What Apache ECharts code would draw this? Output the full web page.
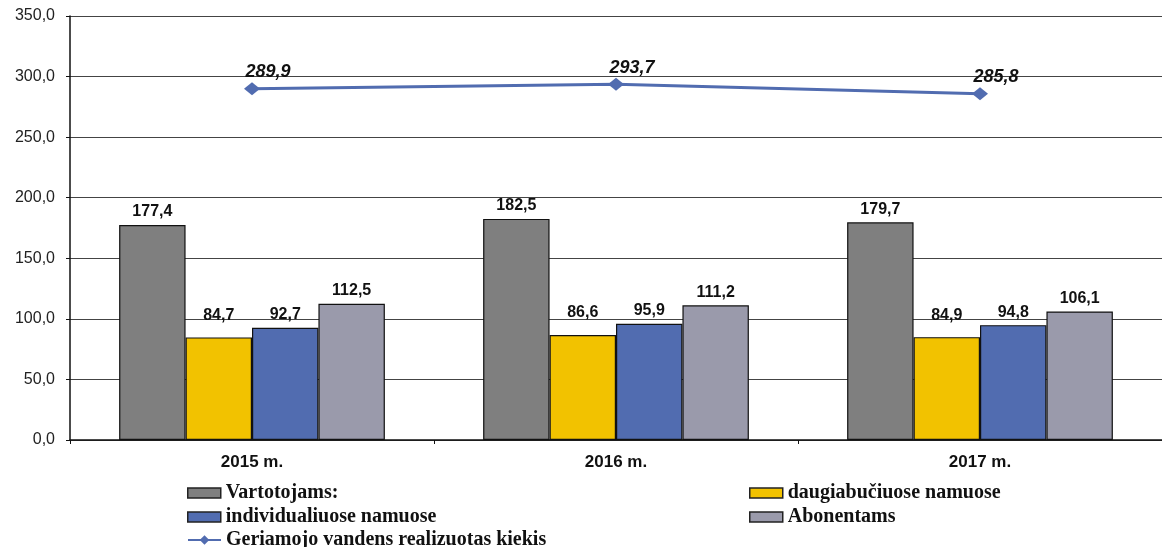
<!DOCTYPE html>
<html>
<head>
<meta charset="utf-8">
<script src="https://cdn.jsdelivr.net/npm/echarts@6/dist/echarts.min.js"></script>
<style>
html, body { margin: 0; padding: 0; background: #fff; }
#main { width: 1162px; height: 547px; }
</style>
</head>
<body>
<div id="main"></div>
<script>
var years = ['2015 m.', '2016 m.', '2017 m.'];
var vartotojams = [177.4, 182.5, 179.7];
var daugiabuciuose = [84.7, 86.6, 84.9];
var individualiuose = [92.7, 95.9, 94.8];
var abonentams = [112.5, 111.2, 106.1];
var geriamojo = [289.9, 293.7, 285.8];

var myChart = echarts.init(document.getElementById('main'));

// skaičius su kableliu
function fmt(v) {
    return v.toFixed(1).replace('.', ',');
}

function barSeries(name, data, color, lift) {
    return {
        name: name,
        type: 'bar',
        data: data,
        barGap: '0%',
        barCategoryGap: '27%',
        itemStyle: { color: color, borderColor: '#111', borderWidth: 1.2 },
        label: {
            show: true,
            position: 'top',
            distance: 5,
            offset: [0, -lift],
            fontFamily: 'Arial, Liberation Sans, sans-serif',
            fontWeight: 'bold',
            fontSize: 16,
            color: '#111',
            formatter: function (p) { return fmt(p.value); }
        }
    };
}

var legendText = {
    fontFamily: 'Liberation Serif, Times New Roman, serif',
    fontWeight: 'bold',
    fontSize: 20,
    color: '#111'
};

function legendItem(name, left, top) {
    return {
        data: [{ name: name, icon: 'rect' }],
        left: left,
        top: top,
        padding: 0,
        itemWidth: 33,
        itemHeight: 10,
        itemGap: 5,
        itemStyle: { borderColor: '#222', borderWidth: 1.5 },
        textStyle: legendText,
        selectedMode: false
    };
}

myChart.setOption({
    animation: false,
    grid: { left: 70, right: -3, top: 16, bottom: 107 },
    legend: [
        legendItem('Vartotojams:', 187, 483),
        legendItem('daugiabučiuose namuose', 749, 483),
        legendItem('individualiuose namuose', 187, 507),
        legendItem('Abonentams', 749, 507),
        {
            data: ['Geriamojo vandens realizuotas kiekis'],
            left: 187,
            top: 530,
            padding: 0,
            itemWidth: 33,
            itemHeight: 12,
            itemGap: 5,
            textStyle: legendText,
            selectedMode: false
        }
    ],
    xAxis: {
        type: 'category',
        data: years,
        axisLine: { lineStyle: { color: '#111', width: 1.5 } },
        axisTick: { show: true, length: 4, lineStyle: { color: '#111' } },
        axisLabel: {
            fontFamily: 'Arial, Liberation Sans, sans-serif',
            fontWeight: 'bold',
            fontSize: 17,
            color: '#111',
            margin: 14
        }
    },
    yAxis: {
        type: 'value',
        min: 0,
        max: 350,
        interval: 50,
        axisLine: { show: true, lineStyle: { color: '#111', width: 1.5 } },
        axisTick: { show: true, length: 4, lineStyle: { color: '#111' } },
        axisLabel: {
            fontFamily: 'Arial, Liberation Sans, sans-serif',
            fontSize: 16,
            color: '#222',
            margin: 15,
            formatter: function (v) { return fmt(v); }
        },
        splitLine: { lineStyle: { color: '#444', width: 1 } }
    },
    series: [
        barSeries('Vartotojams:', vartotojams, '#7f7f7f', 0),
        barSeries('daugiabučiuose namuose', daugiabuciuose, '#f2c200', 9),
        barSeries('individualiuose namuose', individualiuose, '#516cb0', 0),
        barSeries('Abonentams', abonentams, '#9a9aab', 0),
        {
            name: 'Geriamojo vandens realizuotas kiekis',
            type: 'line',
            data: geriamojo,
            symbol: 'diamond',
            symbolSize: [16, 13],
            lineStyle: { color: '#516cb0', width: 3 },
            itemStyle: { color: '#516cb0' },
            label: {
                show: true,
                position: 'top',
                distance: 1,
                offset: [16, 0],
                fontFamily: 'Arial, Liberation Sans, sans-serif',
                fontWeight: 'bold',
                fontStyle: 'italic',
                fontSize: 18,
                color: '#111',
                formatter: function (p) { return fmt(p.value); }
            }
        }
    ]
});
</script>
</body>
</html>
